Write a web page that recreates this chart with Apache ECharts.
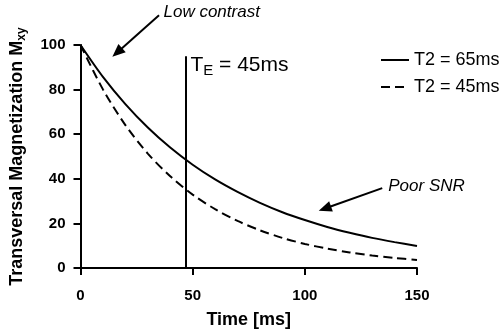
<!DOCTYPE html>
<html><head><meta charset="utf-8">
<script src="https://cdn.jsdelivr.net/npm/echarts@6/dist/echarts.min.js"></script>
<style>html,body{margin:0;padding:0;background:#fff}#c{width:499px;height:334px}</style>
</head><body><div id="c"></div>
<script>
// ---- data ----
const timeMs = [0,10,20,30,40,50,60,70,80,90,100,110,120,130,140,150];
const t2_65 = [100,85.7,73.5,63.0,54.0,46.3,39.7,34.1,29.2,25.0,21.5,18.4,15.8,13.5,11.6,9.9];
const t2_45 = [100,80.1,64.1,51.3,41.1,32.9,26.4,21.1,16.9,13.5,10.8,8.7,7.0,5.6,4.5,3.6];
const seriesNames = ['T2 = 65ms', 'T2 = 45ms'];
const xTicks = [0, 50, 100, 150];
const yTicks = [0, 20, 40, 60, 80, 100];
const teValue = 47;      // echo time marker position
const teTop = 95;
// annotations: tail / head of arrow and text anchor, in data units
const lowContrast = {text: 'Low contrast', tail: [35, 113.3], head: [14.2, 94.7], at: [37.0, 114.8]};
const poorSNR = {text: 'Poor SNR', tail: [134.5, 35.8], head: [106.2, 25.7], at: [137.2, 36.6]};
const teLabelAt = [49.0, 91.0];

const FONT = 'Liberation Sans, Arial, Helvetica, sans-serif';
const chart = echarts.init(document.getElementById('c'), null, {renderer: 'canvas'});
const pair = (xs, ys) => xs.map((x, i) => [x, ys[i]]);

chart.setOption({
  animation: false,
  backgroundColor: '#fff',
  grid: {left: 78, right: 82, top: 45, bottom: 63, containLabel: false},
  legend: {
    orient: 'vertical', left: 375, top: 46, itemWidth: 28, itemHeight: 12, itemGap: 9,
    itemStyle: {opacity: 0},
    textStyle: {fontFamily: FONT, fontSize: 18, color: '#000'},
    data: seriesNames
  },
  xAxis: {
    type: 'value', min: 0, max: 150, interval: 50,
    name: 'Time [ms]', nameLocation: 'middle', nameGap: 43,
    nameTextStyle: {fontFamily: FONT, fontSize: 18, fontWeight: 'bold', color: '#000'},
    axisLine: {show: true, lineStyle: {color: '#000', width: 2}},
    axisTick: {show: true, length: 7, lineStyle: {color: '#000', width: 2}},
    axisLabel: {fontFamily: FONT, fontSize: 15, fontWeight: 'bold', color: '#000', margin: 20},
    splitLine: {show: false}
  },
  yAxis: {
    type: 'value', min: 0, max: 100, interval: 20,
    name: '{m|Transversal Magnetization M}{s|xy}', nameLocation: 'middle', nameGap: 53, nameRotate: 90,
    nameTextStyle: {
      fontFamily: FONT, fontSize: 18, fontWeight: 'bold', color: '#000',
      rich: {
        m: {fontFamily: FONT, fontSize: 18, fontWeight: 'bold', color: '#000'},
        s: {fontFamily: FONT, fontSize: 12, fontWeight: 'bold', color: '#000', padding: [9,0,0,0]}
      }
    },
    axisLine: {show: true, lineStyle: {color: '#000', width: 2}},
    axisTick: {show: true, length: 7, lineStyle: {color: '#000', width: 2}},
    axisLabel: {fontFamily: FONT, fontSize: 15, fontWeight: 'bold', color: '#000', margin: 15},
    splitLine: {show: false}
  },
  series: [
    {
      name: seriesNames[0], type: 'line', data: pair(timeMs, t2_65), smooth: 0.3,
      symbol: 'none', lineStyle: {color: '#000', width: 2, type: 'solid'}, itemStyle: {color: '#000'},
      markLine: {
        silent: true, symbol: ['none', 'none'], label: {show: false},
        lineStyle: {color: '#000', width: 2, type: 'solid'},
        data: [[{coord: [teValue, 0]}, {coord: [teValue, teTop]}]]
      }
    },
    {
      name: seriesNames[1], type: 'line', data: pair(timeMs, t2_45), smooth: 0.3,
      symbol: 'none', lineStyle: {color: '#000', width: 2, type: [9, 5]}, itemStyle: {color: '#000'}
    }
  ]
});

function px(p) { return chart.convertToPixel({gridIndex: 0}, p); }
function arrow(a) {
  const t = px(a.tail), h = px(a.head);
  const dx = h[0] - t[0], dy = h[1] - t[1], L = Math.hypot(dx, dy);
  const ux = dx / L, uy = dy / L, hl = 13, hw = 5.5;
  const bx = h[0] - ux * hl, by = h[1] - uy * hl;
  return [
    {type: 'line', shape: {x1: t[0], y1: t[1], x2: bx + ux * 2, y2: by + uy * 2}, style: {stroke: '#000', lineWidth: 2}},
    {type: 'polygon', shape: {points: [[h[0], h[1]], [bx - uy * hw, by + ux * hw], [bx + uy * hw, by - ux * hw]]}, style: {fill: '#000'}}
  ];
}
function label(a) {
  const p = px(a.at);
  return {type: 'text', x: p[0], y: p[1], style: {text: a.text, font: 'italic 17px ' + FONT, fill: '#000', verticalAlign: 'middle', align: 'left'}};
}
const te = px(teLabelAt);
chart.setOption({
  graphic: [].concat(
    arrow(lowContrast), arrow(poorSNR), [label(lowContrast), label(poorSNR)],
    [{type: 'text', x: te[0], y: te[1], style: {
      text: '{t|T}{s|E}{t| = 45ms}', verticalAlign: 'middle', align: 'left',
      rich: {
        t: {fontFamily: FONT, fontSize: 21, fill: '#000'},
        s: {fontFamily: FONT, fontSize: 15, fill: '#000', padding: [11,0,0,0]}
      }}}]
  )
});
</script></body></html>
